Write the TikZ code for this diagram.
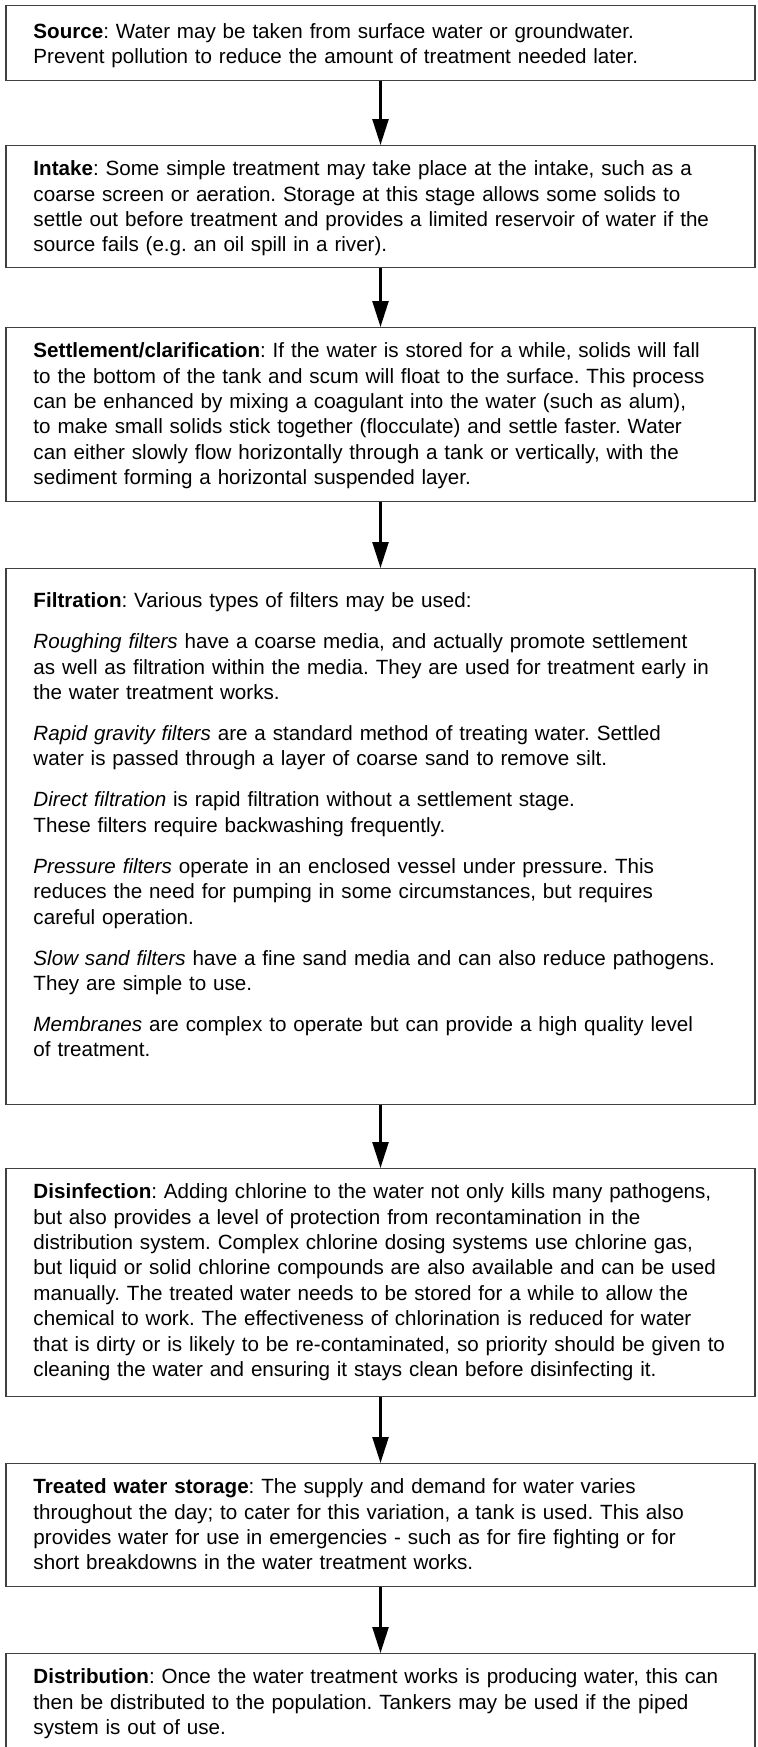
\documentclass[tikz,border=0pt]{standalone}
\usepackage{fontspec}
\setmainfont{Liberation Sans}
\usetikzlibrary{arrows.meta}

\begin{document}
\begin{tikzpicture}[x=0.5pt,y=0.5pt,
	stage/.style={rectangle,draw=black!75,line width=0.6pt,anchor=north,
		text width=372.5pt,align=left,inner xsep=1pt,inner ysep=0pt,
		text height=15pt,font=\fontsize{10.3}{12.7}\selectfont,
		execute at begin node={\leftskip=12.75pt\relax\frenchspacing}},
	flow/.style={-{Triangle[length=13pt,width=8pt]},line width=1.2pt}]
	\useasboundingbox (0,0) rectangle (757,-1747);
	\node (source) at (380.5,-4.5) [stage,text height=16.5pt,text depth=21pt] {\textbf{Source}: Water may be taken from surface water or groundwater.\\
		Prevent pollution to reduce the amount of treatment needed later.};
	\node (intake) at (380.5,-145) [stage,text depth=46pt] {\textbf{Intake}: Some simple treatment may take place at the intake, such as a\\
		coarse screen or aeration. Storage at this stage allows some solids to\\
		settle out before treatment and provides a limited reservoir of water if the\\
		source fails (e.g. an oil spill in a river).};
	\node (settle) at (380.5,-327) [stage,text depth=72pt] {\textbf{Settlement/clarification}: If the water is stored for a while, solids will fall\\
		to the bottom of the tank and scum will float to the surface. This process\\
		can be enhanced by mixing a coagulant into the water (such as alum),\\
		to make small solids stick together (flocculate) and settle faster. Water\\
		can either slowly flow horizontally through a tank or vertically, with the\\
		sediment forming a horizontal suspended layer.};
	\node (filter) at (380.5,-568) [stage,text height=19.5pt,text depth=248.5pt] {\setlength{\parskip}{7.8pt}%
		\textbf{Filtration}: Various types of filters may be used:\par
		\textit{Roughing filters} have a coarse media, and actually promote settlement\\
		as well as filtration within the media. They are used for treatment early in\\
		the water treatment works.\par
		\textit{Rapid gravity filters} are a standard method of treating water. Settled\\
		water is passed through a layer of coarse sand to remove silt.\par
		\textit{Direct filtration} is rapid filtration without a settlement stage.\\
		These filters require backwashing frequently.\par
		\textit{Pressure filters} operate in an enclosed vessel under pressure. This\\
		reduces the need for pumping in some circumstances, but requires\\
		careful operation.\par
		\textit{Slow sand filters} have a fine sand media and can also reduce pathogens.\\
		They are simple to use.\par
		\textit{Membranes} are complex to operate but can provide a high quality level\\
		of treatment.};
	\node (disinf) at (380.5,-1168) [stage,text depth=99pt] {\textbf{Disinfection}: Adding chlorine to the water not only kills many pathogens,\\
		but also provides a level of protection from recontamination in the\\
		distribution system. Complex chlorine dosing systems use chlorine gas,\\
		but liquid or solid chlorine compounds are also available and can be used\\
		manually. The treated water needs to be stored for a while to allow the\\
		chemical to work. The effectiveness of chlorination is reduced for water\\
		that is dirty or is likely to be re-contaminated, so priority should be given to\\
		cleaning the water and ensuring it stays clean before disinfecting it.};
	\node (storage) at (380.5,-1463) [stage,text depth=46.5pt] {\textbf{Treated water storage}: The supply and demand for water varies\\
		throughout the day; to cater for this variation, a tank is used. This also\\
		provides water for use in emergencies - such as for fire fighting or for\\
		short breakdowns in the water treatment works.};
	\node (distrib) at (380.5,-1653) [stage,text depth=32.5pt] {\textbf{Distribution}: Once the water treatment works is producing water, this can\\
		then be distributed to the population. Tankers may be used if the piped\\
		system is out of use.};
	\draw [flow] (source) -- (intake);
	\draw [flow] (intake) -- (settle);
	\draw [flow] (settle) -- (filter);
	\draw [flow] (filter) -- (disinf);
	\draw [flow] (disinf) -- (storage);
	\draw [flow] (storage) -- (distrib);
\end{tikzpicture}
\end{document}
